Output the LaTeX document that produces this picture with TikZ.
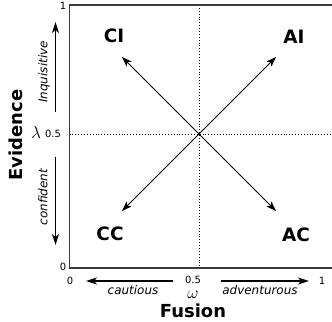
\documentclass[tikz,border=0pt]{standalone}
\usepackage{fontspec}
\setmainfont{DejaVu Sans}
\usetikzlibrary{arrows.meta,positioning}
\definecolor{FrameGray}{HTML}{3A3A3A}
\tikzset{
  quadlabel/.style={font=\fontsize{18.5}{18.5}\selectfont\bfseries, inner sep=0pt},
  axislabel/.style={font=\fontsize{18}{18}\selectfont\bfseries, inner sep=0pt},
  ticklabel/.style={font=\fontsize{10}{10}\selectfont, inner sep=0pt},
  symlabel/.style={font=\fontsize{19}{19}\selectfont, inner sep=0pt},
  hintlabel/.style={font=\fontsize{12}{12}\selectfont\itshape, inner sep=0pt},
  arrow/.style={-{Stealth[length=10bp, width=7bp, inset=2.5bp]}, line width=0.9bp},
  hint/.style={-{Stealth[length=11bp, width=7bp, inset=3bp]}, line width=1.3bp},
  frame/.style={draw=FrameGray, line width=1.4bp},
  guide/.style={dotted, line width=0.9bp}
}

\begin{document}
\begin{tikzpicture}[x=1bp, y=-1bp]
    \useasboundingbox (0,0) rectangle (332,322);

    % frame and guides
    \coordinate (ll) at (69.5,268);
    \coordinate (ur) at (340,5);
    \coordinate (mid) at (199,134);
    \draw[guide] (69.5,134) -- (340,134);
    \draw[guide] (199,5) -- (199,268);
    \draw[frame] (ll) rectangle (ur);

    % quadrants
    \node[quadlabel] (ci) at (114,36) {CI};
    \node[quadlabel] (ai) at (294,37) {AI};
    \node[quadlabel] (cc) at (110,234) {CC};
    \node[quadlabel] (ac) at (296,235) {AC};
    \coordinate (citip) at (122,57);
    \coordinate (aitip) at (276,57);
    \coordinate (cctip) at (122,211);
    \coordinate (actip) at (276,211);
    \draw[arrow] (mid) -- (citip);
    \draw[arrow] (mid) -- (aitip);
    \draw[arrow] (mid) -- (cctip);
    \draw[arrow] (mid) -- (actip);

    % vertical axis
    \node[ticklabel] (yone) at (63,6) {1};
    \node[ticklabel] (yhalf) at (53,134) {0.5};
    \node[ticklabel] (yzero) at (63,267) {0};
    \node[symlabel] (lam) at (36,133) {$\lambda$};
    \node[axislabel, rotate=90] (evid) at (16,135) {Evidence};
    \node[hintlabel, rotate=90] (inq) at (44,72) {Inquisitive};
    \node[hintlabel, rotate=90] (conf) at (43,197) {confident};
    \coordinate (inqfrom) at (55.5,112);
    \coordinate (inqto) at (55.5,22);
    \coordinate (conffrom) at (55.5,157);
    \coordinate (confto) at (55.5,245);
    \draw[hint] (inqfrom) -- (inqto);
    \draw[hint] (conffrom) -- (confto);

    % horizontal axis
    \node[ticklabel] (xzero) at (70,281) {0};
    \node[ticklabel] (xhalf) at (193,280) {0.5};
    \node[ticklabel] (xone) at (322,281) {1};
    \node[symlabel] (omg) at (193,295) {$\omega$};
    \node[axislabel] (fus) at (193,311) {Fusion};
    \node[hintlabel] (caut) at (133,290) {cautious};
    \node[hintlabel] (adv) at (260,290) {adventurous};
    \coordinate (cautfrom) at (173,281);
    \coordinate (cautto) at (86,281);
    \coordinate (advfrom) at (221,281);
    \coordinate (advto) at (309,281);
    \draw[hint] (cautfrom) -- (cautto);
    \draw[hint] (advfrom) -- (advto);
  \end{tikzpicture}
\end{document}
